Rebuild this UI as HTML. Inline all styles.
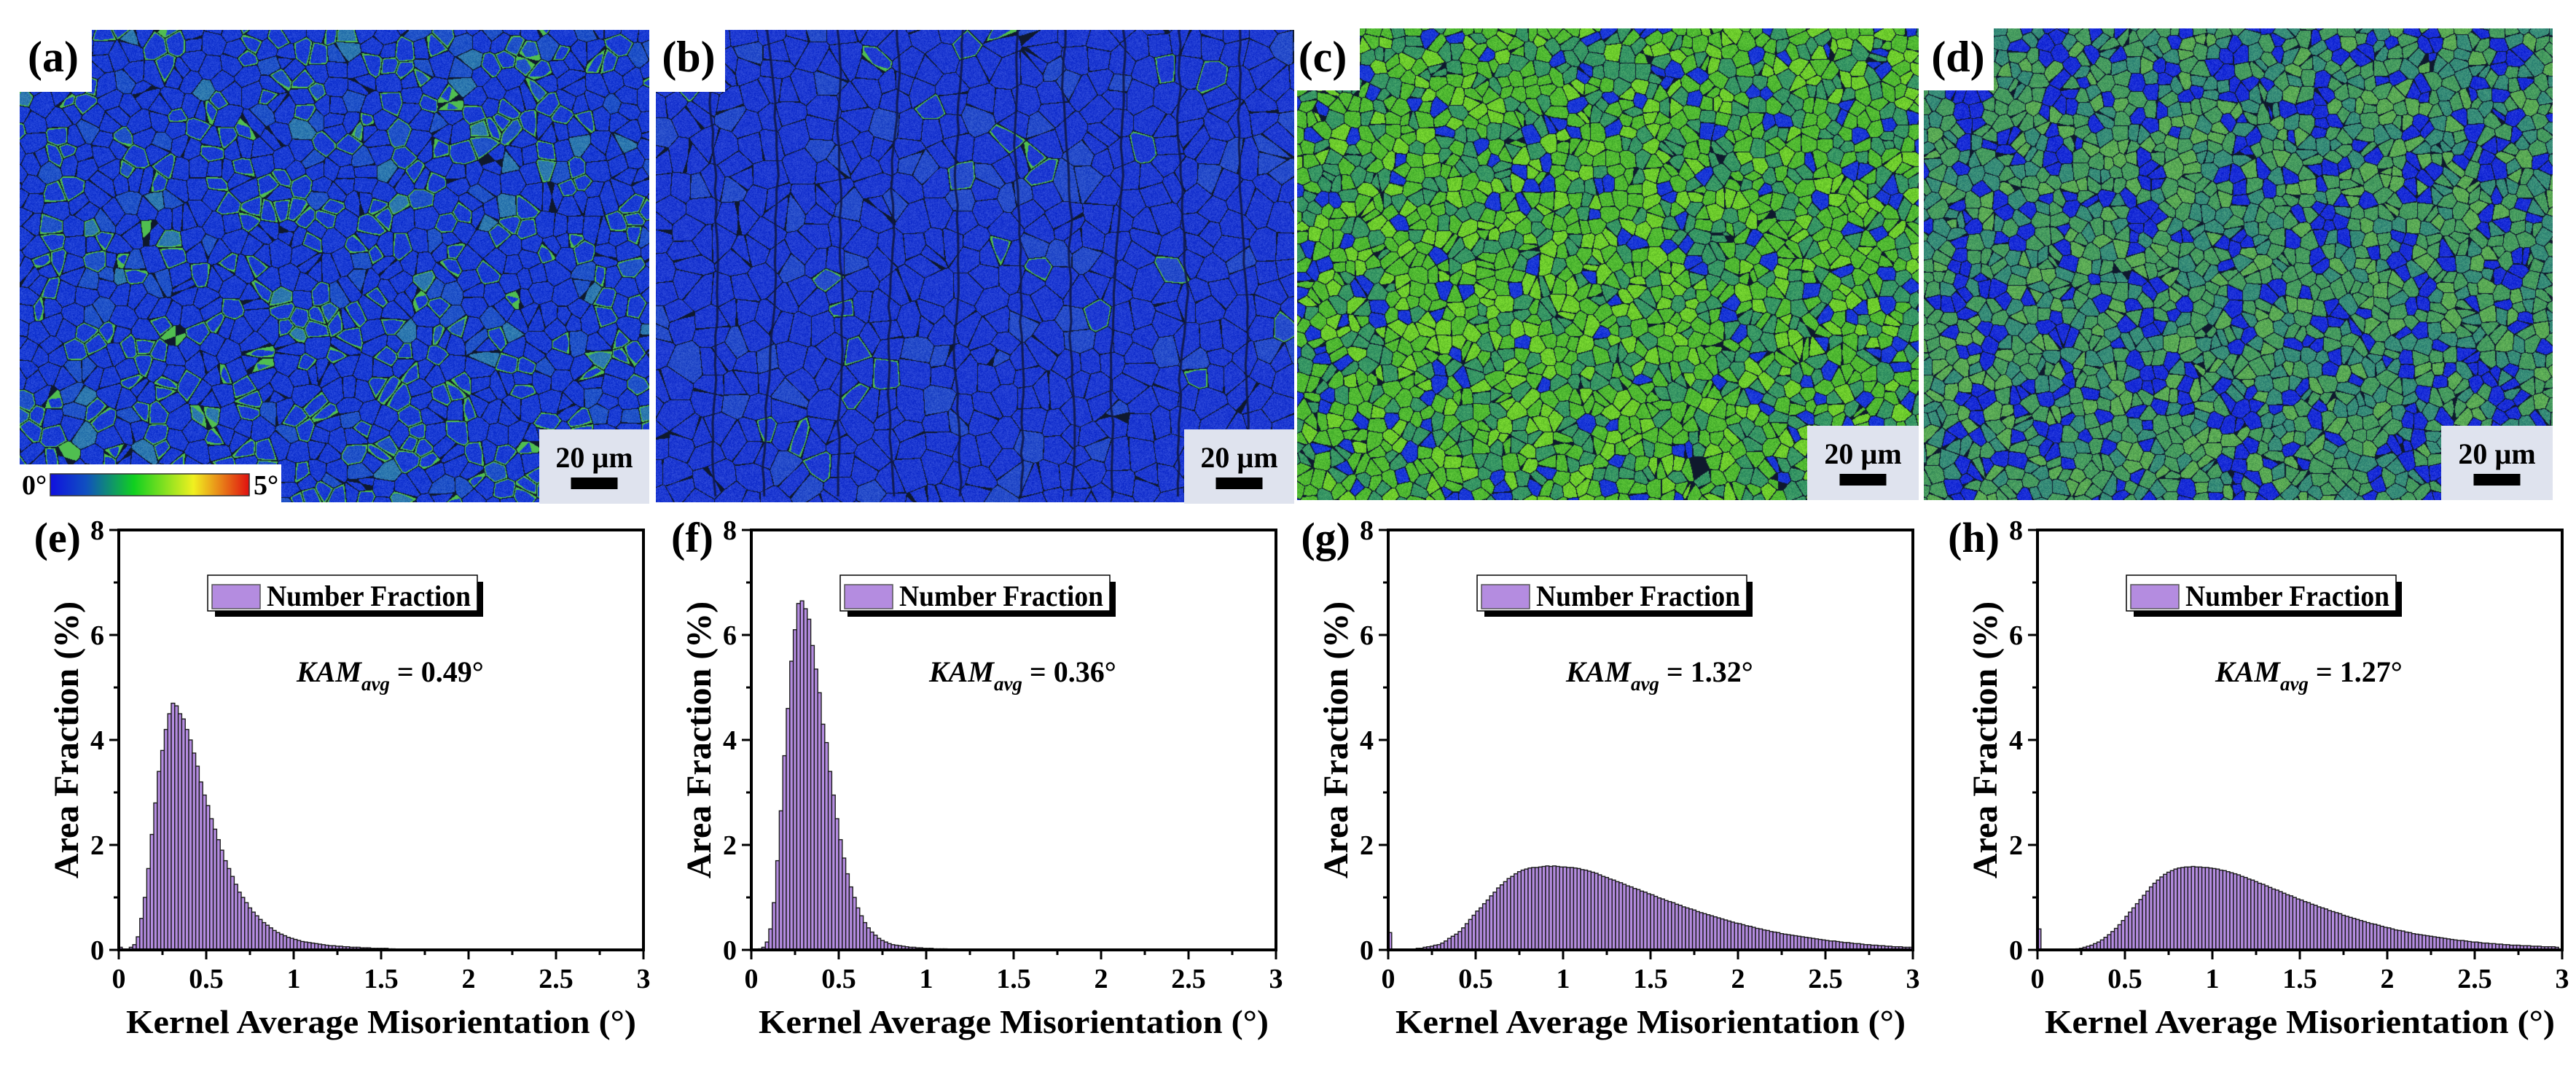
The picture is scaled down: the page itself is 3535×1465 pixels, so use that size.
<!DOCTYPE html>
<html><head><meta charset="utf-8"><style>
html,body{margin:0;padding:0;background:#fff;}
#root{position:relative;width:3535px;height:1465px;overflow:hidden;background:#fff;}
canvas{position:absolute;}
#ov{position:absolute;left:0;top:0;}
text{font-family:"Liberation Serif",serif;font-weight:bold;}
</style></head><body>
<div id="root">
<canvas id="mapA" width="864" height="648" style="left:27px;top:41px"></canvas>
<canvas id="mapB" width="876" height="648" style="left:900px;top:41px"></canvas>
<canvas id="mapC" width="853" height="647" style="left:1780px;top:39px"></canvas>
<canvas id="mapD" width="863" height="647" style="left:2640px;top:39px"></canvas>
<svg id="ov" width="3535" height="1465" xmlns="http://www.w3.org/2000/svg" font-family="Liberation Serif, serif" font-weight="bold">
<defs><linearGradient id="cb" x1="0" x2="1" y1="0" y2="0">
<stop offset="0" stop-color="#1010e0"/><stop offset="0.18" stop-color="#1050c0"/><stop offset="0.42" stop-color="#10d020"/><stop offset="0.72" stop-color="#f0f020"/><stop offset="1" stop-color="#e01010"/></linearGradient></defs>
<g id="maps-overlay">
<rect x="20" y="30" width="106" height="96" fill="#fff"/>
<text x="73" y="98" font-size="60" text-anchor="middle">(a)</text>
<rect x="895" y="30" width="100" height="96" fill="#fff"/>
<text x="945" y="98" font-size="60" text-anchor="middle">(b)</text>
<rect x="1776" y="30" width="90" height="94" fill="#fff"/>
<text x="1815" y="98" font-size="60" text-anchor="middle">(c)</text>
<rect x="2636" y="30" width="100" height="94" fill="#fff"/>
<text x="2687" y="98" font-size="60" text-anchor="middle">(d)</text>
<g>
<rect x="27" y="637" width="359" height="52" fill="#fff"/>
<text x="30" y="678" font-size="38">0°</text>
<rect x="69" y="650" width="273" height="30" fill="url(#cb)" stroke="#333" stroke-width="1.5"/>
<text x="348" y="678" font-size="38">5°</text>
</g>
</g>
<g id="scalebars"></g>
<g id="charts"></g>
</svg>
</div>
<script>
// ---------- chart data (bin width 0.02°, bins start at 0) ----------
const binWidth = 0.02;
const xTicks = [0, 0.5, 1, 1.5, 2, 2.5, 3];
const xTickLabels = ["0", "0.5", "1", "1.5", "2", "2.5", "3"];
const yTicks = [0, 2, 4, 6, 8];
const yTickLabels = ["0", "2", "4", "6", "8"];
const seriesE = [0.05,0,0,0.05,0.1,0.25,0.6,1.0,1.55,2.2,2.8,3.4,3.8,4.2,4.5,4.7,4.65,4.5,4.4,4.2,4.0,3.75,3.5,3.2,2.95,2.75,2.5,2.3,2.1,1.9,1.7,1.55,1.4,1.25,1.1,1.0,0.9,0.8,0.72,0.65,0.58,0.52,0.47,0.42,0.37,0.33,0.3,0.27,0.24,0.22,0.2,0.18,0.16,0.15,0.14,0.13,0.12,0.11,0.1,0.09,0.08,0.08,0.07,0.07,0.06,0.06,0.05,0.05,0.05,0.04,0.04,0.04,0.03,0.03,0.03,0.03,0.03,0.02,0.02];
const seriesF = [0,0,0.02,0.05,0.15,0.4,0.9,1.7,2.65,3.7,4.6,5.5,6.1,6.6,6.65,6.5,6.3,5.8,5.35,4.9,4.3,3.95,3.4,2.95,2.5,2.1,1.75,1.45,1.2,1.0,0.8,0.65,0.52,0.42,0.34,0.28,0.22,0.18,0.15,0.12,0.1,0.09,0.08,0.07,0.06,0.05,0.05,0.04,0.04,0.03,0.03,0.03,0.02,0.02,0.02,0.02];
const seriesG = [0.33,0,0,0,0,0,0,0,0.03,0.03,0.05,0.06,0.07,0.09,0.1,0.13,0.17,0.22,0.26,0.3,0.35,0.42,0.5,0.58,0.66,0.74,0.8,0.88,0.95,1.03,1.1,1.18,1.24,1.3,1.36,1.4,1.45,1.49,1.52,1.54,1.56,1.57,1.57,1.58,1.59,1.6,1.59,1.6,1.59,1.58,1.58,1.57,1.57,1.56,1.55,1.53,1.52,1.5,1.48,1.46,1.43,1.4,1.38,1.35,1.33,1.3,1.28,1.25,1.22,1.2,1.17,1.15,1.12,1.1,1.07,1.05,1.02,0.99,0.97,0.94,0.92,0.9,0.87,0.85,0.82,0.8,0.78,0.76,0.73,0.71,0.69,0.67,0.65,0.63,0.61,0.59,0.57,0.55,0.53,0.51,0.5,0.48,0.46,0.45,0.43,0.41,0.4,0.38,0.37,0.35,0.34,0.33,0.31,0.3,0.29,0.28,0.27,0.26,0.25,0.24,0.23,0.22,0.21,0.2,0.19,0.18,0.17,0.17,0.16,0.15,0.14,0.14,0.13,0.12,0.12,0.11,0.1,0.1,0.09,0.09,0.08,0.08,0.07,0.07,0.06,0.06,0.06,0.05,0.05,0.05];
const seriesH = [0.4,0,0,0,0,0,0,0,0,0,0,0.02,0.03,0.05,0.07,0.09,0.12,0.15,0.19,0.24,0.29,0.35,0.41,0.48,0.56,0.64,0.72,0.8,0.88,0.96,1.04,1.12,1.2,1.27,1.33,1.39,1.44,1.48,1.51,1.54,1.56,1.57,1.58,1.58,1.59,1.58,1.58,1.57,1.57,1.56,1.55,1.54,1.52,1.51,1.49,1.47,1.45,1.43,1.4,1.38,1.35,1.33,1.3,1.27,1.25,1.22,1.19,1.16,1.14,1.11,1.08,1.05,1.03,1.0,0.97,0.95,0.92,0.9,0.87,0.85,0.82,0.8,0.78,0.75,0.73,0.71,0.69,0.66,0.64,0.62,0.6,0.58,0.56,0.54,0.52,0.5,0.49,0.47,0.45,0.43,0.42,0.4,0.38,0.37,0.36,0.34,0.33,0.31,0.3,0.29,0.28,0.27,0.26,0.25,0.24,0.23,0.22,0.21,0.2,0.19,0.18,0.18,0.17,0.16,0.15,0.15,0.14,0.13,0.13,0.12,0.12,0.11,0.11,0.1,0.1,0.09,0.09,0.09,0.08,0.08,0.08,0.07,0.07,0.07,0.06,0.06,0.06,0.06,0.05];
const panelLetters = ["(e)", "(f)", "(g)", "(h)"];
const kamValues = ["0.49°", "0.36°", "1.32°", "1.27°"];

const NS = "http://www.w3.org/2000/svg";
function mk(tag, attrs, parent){ const e=document.createElementNS(NS,tag); for(const k in attrs) e.setAttribute(k,attrs[k]); parent.appendChild(e); return e; }

const charts = document.getElementById('charts');
const panelLefts = [163, 1031, 1905, 2796];
const allSeries = [seriesE, seriesF, seriesG, seriesH];
const TOP = 727, BOT = 1303, PW = 720;
const FF = "Liberation Serif, serif";

allSeries.forEach((series, p) => {
  const L = panelLefts[p];
  const g = mk('g', {'font-family': FF, 'font-weight': 'bold'}, charts);
  
  
  const xS = v => L + v / 3 * PW;
  const yS = v => BOT - v / 8 * (BOT - TOP);
  const bars = mk('g', {}, g);
  
  
  series.forEach((v, i) => {
    if (v <= 0) return;
    const x0 = xS(i * binWidth), x1 = xS((i + 1) * binWidth);
    const r = mk('rect', {x: x0, y: yS(v), width: x1 - x0, height: BOT - yS(v), fill: '#b48ce0', stroke: '#1a1a1a', 'stroke-width': 1.4}, bars);
    
    
  });
  const fr = mk('rect', {x: L, y: TOP, width: PW, height: BOT - TOP, fill: 'none', stroke: '#000', 'stroke-width': 4}, g);
  
  
  for (let k = 0; k <= 12; k++) {
    const v = k * 0.25, x = xS(v), major = k % 2 === 0;
    mk('line', {x1: x, x2: x, y1: BOT, y2: BOT + (major ? 13 : 7), stroke: '#000', 'stroke-width': 3}, g);
  }
  xTicks.forEach((v, i) => {
    const t = mk('text', {x: xS(v), y: BOT + 52, 'font-size': 38, 'text-anchor': 'middle'}, g);
    t.textContent = xTickLabels[i];
    
    
  });
  for (let k = 0; k <= 8; k++) {
    const y = yS(k), major = k % 2 === 0;
    mk('line', {x1: L - (major ? 13 : 7), x2: L, y1: y, y2: y, stroke: '#000', 'stroke-width': 3}, g);
  }
  yTicks.forEach((v, i) => {
    const t = mk('text', {x: L - 20, y: yS(v) + 13, 'font-size': 38, 'text-anchor': 'end'}, g);
    t.textContent = yTickLabels[i];
    
    
  });
  const xt = mk('text', {x: L + PW / 2, y: 1417, 'font-size': 46, 'text-anchor': 'middle', textLength: 700, lengthAdjust: 'spacingAndGlyphs'}, g);
  xt.textContent = 'Kernel Average Misorientation (°)';
  
  
  const yt = mk('text', {x: 0, y: 0, 'font-size': 48, 'text-anchor': 'middle', transform: `translate(${L - 56},${(TOP + BOT) / 2}) rotate(-90)`}, g);
  yt.textContent = 'Area Fraction (%)';
  
  
  const pl = mk('text', {x: L - 52, y: TOP + 30, 'font-size': 58, 'text-anchor': 'end'}, g);
  pl.textContent = panelLetters[p];
  
  
  const lg = mk('g', {}, g);
  
  
  mk('rect', {x: L + 132, y: 838, width: 368, height: 8, fill: '#000'}, lg);
  mk('rect', {x: L + 492, y: 798, width: 8, height: 48, fill: '#000'}, lg);
  mk('rect', {x: L + 122, y: 789, width: 370, height: 49, fill: '#fff', stroke: '#000', 'stroke-width': 1.5}, lg);
  const sw = mk('rect', {x: L + 128, y: 802, width: 66, height: 33, fill: '#b48ce0', stroke: '#555', 'stroke-width': 1.5}, lg);
  
  
  const lt = mk('text', {x: L + 203, y: 831, 'font-size': 40, textLength: 280, lengthAdjust: 'spacingAndGlyphs'}, lg);
  lt.textContent = 'Number Fraction';
  
  
  const kt = mk('text', {x: L + 244, y: 935, 'font-size': 40}, g);
  
  
  const s1 = mk('tspan', {'font-style': 'italic'}, kt); s1.textContent = 'KAM';
  const s2 = mk('tspan', {'font-style': 'italic', 'font-size': 27, dy: 12}, kt); s2.textContent = 'avg';
  const s3 = mk('tspan', {dy: -12}, kt); s3.textContent = ' = ' + kamValues[p];
});

// ---------- scale bars ----------
const sbG = document.getElementById('scalebars');
[[740, 589, 151], [1625, 589, 151], [2480, 584, 153], [3350, 584, 153]].forEach((b, i) => {
  const g = mk('g', {'font-family': FF, 'font-weight': 'bold'}, sbG);
  
  
  mk('rect', {x: b[0], y: b[1], width: b[2], height: 102, fill: '#dfe3ee'}, g);
  const t = mk('text', {x: b[0] + b[2] / 2, y: b[1] + 52, 'font-size': 40, 'text-anchor': 'middle'}, g);
  t.textContent = '20 µm';
  mk('rect', {x: b[0] + b[2] / 2 - 32, y: b[1] + 66, width: 64, height: 16, fill: '#000'}, g);
});

// ---------- map textures (image-like, procedural) ----------
function rng(seed){ return function(){ seed = (seed * 1664525 + 1013904223) >>> 0; return seed / 4294967296; }; }
function drawMap(id, seed, cell, pickColor, opts){
  const cv = document.getElementById(id), ctx = cv.getContext('2d');
  const W = cv.width, H = cv.height, R = rng(seed);
  const gx = Math.ceil(W / cell) + 2, gy = Math.ceil(H / cell) + 2;
  const px = [], py = [], col = [], flag = [];
  for (let j = 0; j < gy; j++) for (let i = 0; i < gx; i++) {
    const x = (i - 0.5 + R()) * cell, y = (j - 0.5 + R()) * cell;
    px.push(x); py.push(y); col.push(pickColor(R(), x, y, W)); flag.push(R());
  }
  const img = ctx.createImageData(W, H), d = img.data;
  for (let y = 0; y < H; y++) {
    const cj = Math.floor(y / cell + 0.5);
    for (let x = 0; x < W; x++) {
      const ci = Math.floor(x / cell + 0.5);
      let b1 = 1e9, b2 = 1e9, bi = 0;
      for (let j = cj - 1; j <= cj + 1; j++) { if (j < 0 || j >= gy) continue;
        for (let i = ci - 1; i <= ci + 1; i++) { if (i < 0 || i >= gx) continue;
          const k = j * gx + i, dx = x - px[k], dy = y - py[k], dd = dx * dx + dy * dy;
          if (dd < b1) { b2 = b1; b1 = dd; bi = k; } else if (dd < b2) b2 = dd; } }
      const edge = Math.sqrt(b2) - Math.sqrt(b1);
      let c = col[bi], r, g, b;
      const n = (R() - 0.5) * 40;
      if (edge < 1.1) { r = 15; g = 25; b = 45; }
      else if (opts.greenEdge && edge < 3.5 && flag[bi] < opts.greenEdge) { r = 80; g = 190; b = 80; }
      else { r = c[0] + n; g = c[1] + n; b = c[2] + n * 0.5; }
      const o = (y * W + x) * 4;
      d[o] = r; d[o + 1] = g; d[o + 2] = b; d[o + 3] = 255;
    }
  }
  ctx.putImageData(img, 0, 0);
  if (opts.lines) {
    ctx.strokeStyle = 'rgba(15,25,70,0.9)'; ctx.lineWidth = 3;
    opts.lines.forEach(lx => { ctx.beginPath(); let x = lx; ctx.moveTo(x, 0);
      for (let y = 0; y <= H; y += 20) { x += (R() - 0.5) * 6; ctx.lineTo(x, y); } ctx.stroke(); });
  }
}
drawMap('mapA', 11, 24, (r) => r < 0.85 ? [26, 60, 212] : (r < 0.96 ? [32, 82, 200] : [45, 120, 175]), {greenEdge: 0.3});
drawMap('mapB', 23, 32, (r) => r < 0.85 ? [30, 58, 210] : [38, 76, 202], {greenEdge: 0.04, lines: [80, 150, 250, 330, 420, 500, 560, 640, 720, 800]});
drawMap('mapC', 37, 18, (r) => r < 0.4 ? [80, 185, 50] : r < 0.6 ? [110, 205, 45] : r < 0.88 ? [55, 150, 100] : [25, 55, 215], {});
drawMap('mapD', 53, 18, (r, x, y, W) => { const band = Math.abs(Math.sin(x / W * Math.PI * 7)) > 0.85; const pb = band ? 0.45 : 0.14;
  return r < pb ? [25, 45, 215] : r < pb + (1 - pb) * 0.45 ? [70, 155, 95] : r < pb + (1 - pb) * 0.8 ? [55, 140, 120] : [90, 170, 85]; }, {});
</script>
</body></html>
